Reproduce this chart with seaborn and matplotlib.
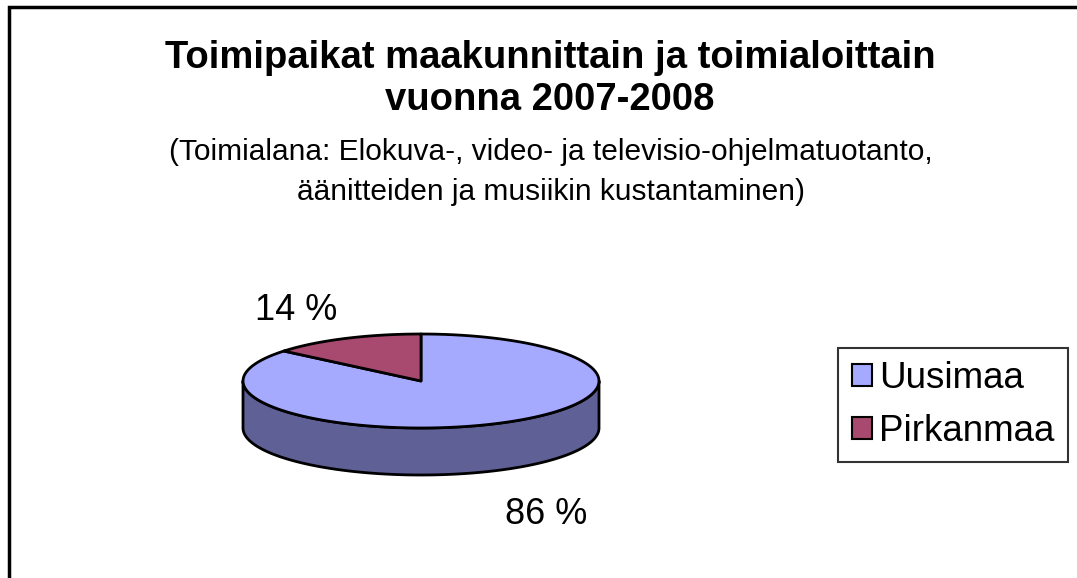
"""
Toimipaikat maakunnittain ja toimialoittain 2007-2008 - 3D pie chart
"""

import numpy as np
import matplotlib.pyplot as plt
from matplotlib.patches import Polygon, Patch
import seaborn as sns

# Data
regions = ['Uusimaa', 'Pirkanmaa']
shares = [86, 14]
top_colors = ['#A6AAFF', '#A8496F']
side_colors = ['#5F6096', '#6B2E48']

title = 'Toimipaikat maakunnittain ja toimialoittain\nvuonna 2007-2008'
subtitle = ('(Toimialana: Elokuva-, video- ja televisio-ohjelmatuotanto,\n'
            'äänitteiden ja musiikin kustantaminen)')


def ellipse_pts(a0, a1, cx, cy, rx, ry, dy=0.0, n=120):
    t = np.radians(np.linspace(a0, a1, n))
    return np.column_stack([cx + rx * np.cos(t), cy - ry * np.sin(t) + dy])


def draw_pie3d(ax, values, tops, sides, cx, cy, rx, ry, depth):
    total = float(sum(values))
    # first wedge starts at 12 o'clock and runs clockwise
    angles = []
    start = 90.0
    for v in values:
        end = start - v / total * 360.0
        angles.append((end, start))
        start = end

    # side walls (only the front half, 180..360 deg, is visible)
    for (a0, a1), sc in zip(angles, sides):
        for shift in (-360, 0, 360):
            lo = max(a0 + shift, -180)
            hi = min(a1 + shift, 0)
            if hi > lo:
                top = ellipse_pts(lo, hi, cx, cy, rx, ry)
                bot = ellipse_pts(hi, lo, cx, cy, rx, ry, dy=depth)
                ax.add_patch(Polygon(np.vstack([top, bot]), closed=True,
                                     facecolor=sc, edgecolor='black', lw=2,
                                     joinstyle='round'))

    # top faces
    for (a0, a1), tc in zip(angles, tops):
        arc = ellipse_pts(a0, a1, cx, cy, rx, ry)
        pts = np.vstack([[cx, cy], arc])
        ax.add_patch(Polygon(pts, closed=True, facecolor=tc,
                             edgecolor='black', lw=2, joinstyle='round'))

    # percentage labels outside the pie
    for (a0, a1), v in zip(angles, values):
        mid = np.radians((a0 + a1) / 2)
        lx = cx + rx * 1.65 * np.cos(mid)
        ly = cy - ry * 1.65 * np.sin(mid)
        if np.sin(mid) < 0:
            ly += depth + 16
        ax.text(lx, ly, f'{v:.0f} %', ha='center', va='center',
                fontsize=26, color='black')


def main():
    sns.set_style('white')
    plt.rcParams['font.family'] = ['Liberation Sans', 'DejaVu Sans']
    plt.rcParams['text.color'] = 'black'

    fig = plt.figure(figsize=(10.77, 5.78), dpi=100)
    ax = fig.add_axes([0, 0, 1, 1])
    ax.set_xlim(0, 1077)
    ax.set_ylim(578, 0)
    ax.axis('off')

    # chart area frame (right/bottom edges fall outside the image)
    ax.plot([9, 9, 1077], [578, 7, 7], color='black', lw=2.5,
            solid_joinstyle='miter')

    ax.text(550, 79, title, ha='center', va='center', fontsize=27.5,
            fontweight='bold', linespacing=1.25)
    ax.text(551, 172, subtitle, ha='center', va='center', fontsize=21.5,
            linespacing=1.5)

    draw_pie3d(ax, shares, top_colors, side_colors,
               cx=421, cy=381, rx=178, ry=47, depth=47)

    handles = [Patch(facecolor=c, edgecolor='black', lw=1.5) for c in top_colors]
    leg = fig.legend(handles, regions, loc='center left',
                     bbox_to_anchor=(838 / 1077, 1 - 405 / 578),
                     fontsize=26.5, frameon=True, fancybox=False,
                     handlelength=0.55, handleheight=0.55, handletextpad=0.2,
                     borderpad=0.37, labelspacing=0.47, borderaxespad=0)
    leg.get_frame().set_edgecolor('black')
    leg.get_frame().set_linewidth(1.5)
    for t in leg.get_texts():
        t.set_color('black')

    fig.savefig('out.png', dpi=100)


if __name__ == '__main__':
    main()
